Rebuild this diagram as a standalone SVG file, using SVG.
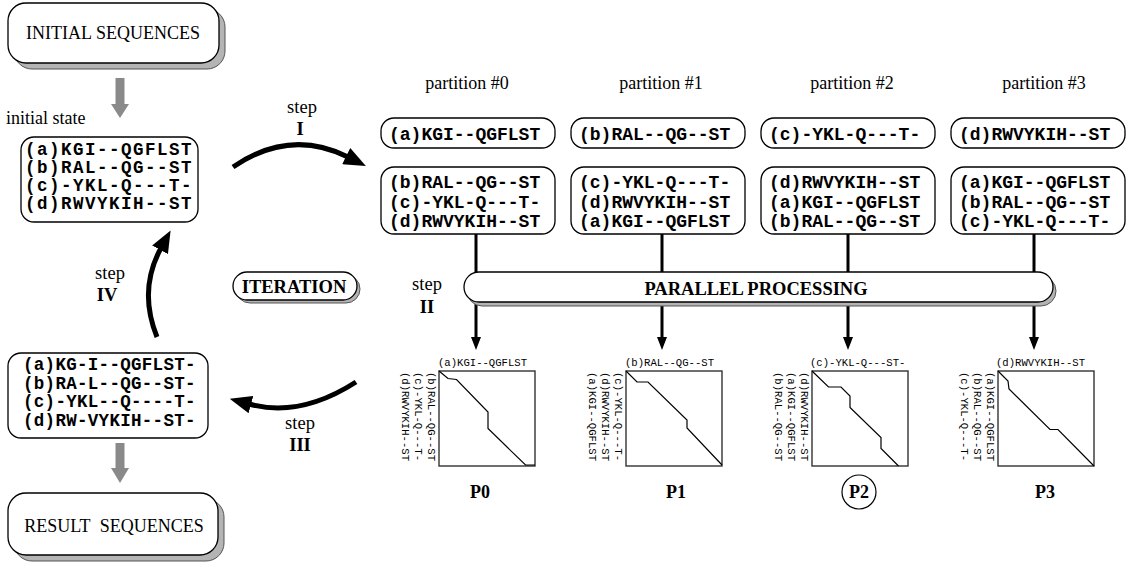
<svg xmlns="http://www.w3.org/2000/svg" width="1130" height="563" viewBox="0 0 1130 563">
  <style>
    .box { fill: #fff; stroke: #000; stroke-width: 1.3; }
    .shadow { fill: #b4b4b4; stroke: #555; stroke-width: 1; }
    .serif { font-family: "Liberation Serif", "Times New Roman", serif; fill: #000; }
    .lbl { font-size: 18.5px; }
    .bold { font-weight: bold; }
    .seq { font-family: "Liberation Mono", "Courier New", monospace; font-weight: bold; fill: #000; }
    .small { font-family: "Liberation Mono", "Courier New", monospace; font-size: 10.6px; fill: #000; }
    .plot { fill: #fff; stroke: #333; stroke-width: 1.4; }
    .trace { fill: none; stroke: #000; stroke-width: 1.2; }
    .flow { fill: none; stroke: #000; stroke-width: 5; }
    .feed { fill: none; stroke: #000; stroke-width: 3; }
    .grey { fill: #8a8a8a; }
  </style>
  <defs>
    <marker id="head" markerWidth="22" markerHeight="18" refX="2" refY="9" orient="auto" markerUnits="userSpaceOnUse">
      <path d="M0,0 L22,9 L0,18 z" fill="#000"/>
    </marker>
  </defs>

  <rect width="1130" height="563" fill="#fff"/>

  <!-- source node -->
  <g id="initial-sequences">
    <rect class="shadow" x="14" y="9" width="211" height="60" rx="18"/>
    <rect class="box" x="8" y="3" width="211" height="60" rx="18"/>
    <text class="serif" x="113" y="39" font-size="18" text-anchor="middle">INITIAL SEQUENCES</text>
  </g>

  <!-- start state -->
  <g id="initial-state">
    <text class="serif" x="6" y="124" font-size="18">initial state</text>
    <rect class="box" x="21" y="137" width="177" height="85" rx="13"/>
    <g class="seq" font-size="17.5" letter-spacing="1.5">
      <text x="25" y="155">(a)KGI--QGFLST</text>
      <text x="25" y="173">(b)RAL--QG--ST</text>
      <text x="25" y="191">(c)-YKL-Q---T-</text>
      <text x="25" y="209">(d)RWVYKIH--ST</text>
    </g>
  </g>

  <!-- aligned state -->
  <g id="aligned-state">
    <rect class="box" x="8" y="353" width="200" height="85" rx="13"/>
    <g class="seq" font-size="17.5" letter-spacing="0.3">
      <text x="23" y="370">(a)KG-I--QGFLST-</text>
      <text x="23" y="388.5">(b)RA-L--QG--ST-</text>
      <text x="23" y="407">(c)-YKL--Q----T-</text>
      <text x="23" y="425.5">(d)RW-VYKIH--ST-</text>
    </g>
  </g>

  <!-- sink node -->
  <g id="result-sequences">
    <rect class="shadow" x="14" y="499" width="210" height="62" rx="18"/>
    <rect class="box" x="8" y="493" width="210" height="62" rx="18"/>
    <text class="serif" x="114" y="532" font-size="18" text-anchor="middle" word-spacing="5">RESULT SEQUENCES</text>
  </g>

  <!-- loop label -->
  <g id="iteration">
    <rect class="shadow" x="236" y="275" width="124" height="28" rx="14"/>
    <rect class="box" x="233" y="272" width="124" height="28" rx="14"/>
    <text class="serif lbl bold" x="294" y="293" text-anchor="middle">ITERATION</text>
  </g>

  <!-- partitions -->
  <g id="partition-0">
    <text class="serif" x="467" y="89" font-size="18" text-anchor="middle">partition #0</text>
    <rect class="box" x="381" y="118" width="174" height="30" rx="13"/>
    <rect class="box" x="381" y="167" width="174" height="67" rx="13"/>
    <g class="seq" font-size="18">
      <text x="389" y="140">(a)KGI--QGFLST</text>
      <text x="389" y="188">(b)RAL--QG--ST</text>
      <text x="389" y="207.5">(c)-YKL-Q---T-</text>
      <text x="389" y="227">(d)RWVYKIH--ST</text>
    </g>
  </g>
  <g id="partition-1">
    <text class="serif" x="661" y="89" font-size="18" text-anchor="middle">partition #1</text>
    <rect class="box" x="571" y="118" width="174" height="30" rx="13"/>
    <rect class="box" x="571" y="167" width="174" height="67" rx="13"/>
    <g class="seq" font-size="18">
      <text x="579" y="140">(b)RAL--QG--ST</text>
      <text x="579" y="188">(c)-YKL-Q---T-</text>
      <text x="579" y="207.5">(d)RWVYKIH--ST</text>
      <text x="579" y="227">(a)KGI--QGFLST</text>
    </g>
  </g>
  <g id="partition-2">
    <text class="serif" x="852" y="89" font-size="18" text-anchor="middle">partition #2</text>
    <rect class="box" x="761" y="118" width="174" height="30" rx="13"/>
    <rect class="box" x="761" y="167" width="174" height="67" rx="13"/>
    <g class="seq" font-size="18">
      <text x="769" y="140">(c)-YKL-Q---T-</text>
      <text x="769" y="188">(d)RWVYKIH--ST</text>
      <text x="769" y="207.5">(a)KGI--QGFLST</text>
      <text x="769" y="227">(b)RAL--QG--ST</text>
    </g>
  </g>
  <g id="partition-3">
    <text class="serif" x="1044" y="89" font-size="18" text-anchor="middle">partition #3</text>
    <rect class="box" x="951" y="118" width="174" height="30" rx="13"/>
    <rect class="box" x="951" y="167" width="174" height="67" rx="13"/>
    <g class="seq" font-size="18">
      <text x="959" y="140">(d)RWVYKIH--ST</text>
      <text x="959" y="188">(a)KGI--QGFLST</text>
      <text x="959" y="207.5">(b)RAL--QG--ST</text>
      <text x="959" y="227">(c)-YKL-Q---T-</text>
    </g>
  </g>

  <!-- connectors -->
  <g id="connectors">
    <path class="feed" d="M476,234 V338 M662,234 V338 M848,234 V338 M1034,234 V338"/>
    <path d="M476,350 L471,337 L481,337 z M662,350 L657,337 L667,337 z M848,350 L843,337 L853,337 z M1034,350 L1029,337 L1039,337 z" fill="#000"/>
    <!-- grey in/out arrows -->
    <path class="grey" d="M115.5,78 H124.5 V104 H129 L120,118 L111,104 H115.5 z"/>
    <path class="grey" d="M115.5,443 H124.5 V468 H129 L120,483 L111,468 H115.5 z"/>
    <!-- loop arcs -->
    <path class="flow" d="M233,167 Q290,128 348,157" marker-end="url(#head)"/>
    <path class="flow" d="M157,337 Q138,290 161,248" marker-end="url(#head)"/>
    <path class="flow" d="M356,382 Q300,418 249,404" marker-end="url(#head)"/>
  </g>

  <!-- step labels -->
  <g id="step-labels" class="serif lbl" text-anchor="middle">
    <text x="302" y="113">step</text>
    <text x="300" y="135" class="bold">I</text>
    <text x="427" y="290">step</text>
    <text x="427" y="313" class="bold">II</text>
    <text x="300" y="429">step</text>
    <text x="300" y="451" class="bold">III</text>
    <text x="110" y="279">step</text>
    <text x="107" y="301" class="bold">IV</text>
  </g>

  <!-- processing bar (drawn over the feed lines) -->
  <g id="parallel-processing">
    <rect class="shadow" x="467" y="276" width="589" height="30" rx="15"/>
    <rect class="box" x="464" y="272" width="589" height="30" rx="15"/>
    <text class="serif lbl bold" x="756" y="295" text-anchor="middle">PARALLEL PROCESSING</text>
  </g>

  <!-- pairwise dot plots -->
  <g id="plot-p0">
    <text class="small" x="438" y="366">(a)KGI--QGFLST</text>
    <text class="small" transform="translate(428,372) rotate(90)">(b)RAL--QG--ST</text>
    <text class="small" transform="translate(415,372) rotate(90)">(c)-YKL-Q---T-</text>
    <text class="small" transform="translate(402,372) rotate(90)">(d)RWVYKIH--ST</text>
    <rect class="plot" x="439" y="371" width="96" height="95"/>
    <path class="trace" d="M439,371 l9,7.5 l8.5,1 l31.5,32.5 v16.5 l37.5,36.5 h9.5"/>
    <text class="serif bold" x="480" y="498" font-size="18" text-anchor="middle">P0</text>
  </g>
  <g id="plot-p1">
    <text class="small" x="625" y="366">(b)RAL--QG--ST</text>
    <text class="small" transform="translate(615,372) rotate(90)">(c)-YKL-Q---T-</text>
    <text class="small" transform="translate(602,372) rotate(90)">(d)RWVYKIH--ST</text>
    <text class="small" transform="translate(589,372) rotate(90)">(a)KGI--QGFLST</text>
    <rect class="plot" x="626" y="371" width="96" height="95"/>
    <path class="trace" d="M626,371 l11,11 h11 l39,38 v8 l35,37"/>
    <text class="serif bold" x="676" y="498" font-size="18" text-anchor="middle">P1</text>
  </g>
  <g id="plot-p2">
    <text class="small" x="810" y="366">(c)-YKL-Q---ST-</text>
    <text class="small" transform="translate(801,372) rotate(90)">(d)RWVYKIH--ST</text>
    <text class="small" transform="translate(788,372) rotate(90)">(a)KGI--QGFLST</text>
    <text class="small" transform="translate(775,372) rotate(90)">(b)RAL--QG--ST</text>
    <rect class="plot" x="812" y="371" width="96" height="95"/>
    <path class="trace" d="M812,371 l16.5,16 h12.5 l9,9 v11.5 l31,30 v11 l17.5,17.5"/>
    <circle cx="859" cy="492" r="17" fill="none" stroke="#000" stroke-width="1.2"/>
    <text class="serif bold" x="859" y="498" font-size="18" text-anchor="middle">P2</text>
  </g>
  <g id="plot-p3">
    <text class="small" x="996" y="366">(d)RWVYKIH--ST</text>
    <text class="small" transform="translate(987,372) rotate(90)">(a)KGI--QGFLST</text>
    <text class="small" transform="translate(974,372) rotate(90)">(b)RAL--QG--ST</text>
    <text class="small" transform="translate(961,372) rotate(90)">(c)-YKL-Q---T-</text>
    <rect class="plot" x="998" y="371" width="96" height="95"/>
    <path class="trace" d="M998,371 l10,10 l1,8 l41,40.5 h8 l36,36.5"/>
    <text class="serif bold" x="1045" y="498" font-size="18" text-anchor="middle">P3</text>
  </g>
</svg>
